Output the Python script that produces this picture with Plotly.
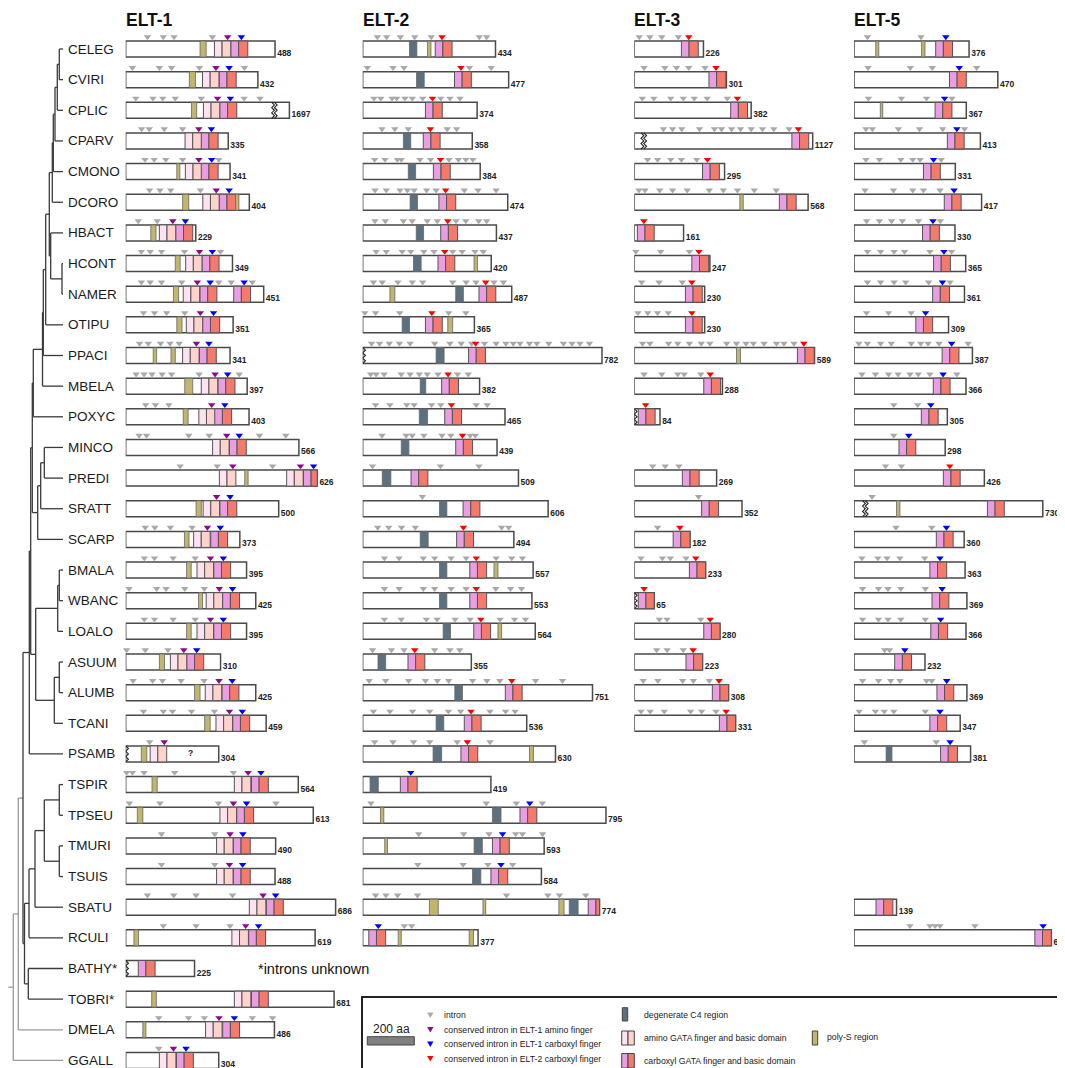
import plotly.graph_objects as go

W, H = 1065, 1068
OFF = 8  # the page body margin shifts the figure by this many pixels

species = ["CELEG", "CVIRI", "CPLIC", "CPARV", "CMONO", "DCORO", "HBACT", "HCONT", "NAMER",
           "OTIPU", "PPACI", "MBELA", "POXYC", "MINCO", "PREDI", "SRATT", "SCARP", "BMALA",
           "WBANC", "LOALO", "ASUUM", "ALUMB", "TCANI", "PSAMB", "TSPIR", "TPSEU", "TMURI",
           "TSUIS", "SBATU", "RCULI", "BATHY*", "TOBRI*", "DMELA", "GGALL"]
genes = ["ELT-1", "ELT-2", "ELT-3", "ELT-5"]

# ---------------- tree (node depth, children...) ----------------
caeno = (52.3, (53.3, (55, (57.3, (59.3, "CELEG", "CVIRI"), "CPLIC"), "CPARV"), "CMONO"), "DCORO")
strongyl = (50.7, "HBACT", (62, "HCONT", "NAMER"))
clade_V = (33.3, (42.5, (43.3, (45.7, (49.3, caeno, strongyl), "OTIPU"), "PPACI"), "MBELA"), "POXYC")
clade_IV = (37.7, (40.7, (44.3, "MINCO", "PREDI"), "SRATT"), "SCARP")
clade_III = (35.7, (57.7, (59.3, "BMALA", "WBANC"), "LOALO"),
             (54.3, (59.3, "ASUUM", "ALUMB"), "TCANI"))
chromadorea = (29.3, (30.7, (32.3, clade_V, clade_IV), clade_III), "PSAMB")
clade_I = (29, (35, (44.3, (59.3, "TSPIR", "TPSEU"), (59.3, "TMURI", "TSUIS")), "SBATU"), "RCULI")
enoplia = (28.3, "BATHY*", "TOBRI*")
tree = (13.3, (18.3, (23, chromadorea, (24.5, clade_I, enoplia)), "DMELA"), "GGALL")
ROOT_STUB = 8.3
TIP_X = 63

# ---------------- ELT-1 ----------------
elt1_len = {"CELEG": 488, "CVIRI": 432, "CPLIC": 1697, "CPARV": 335, "CMONO": 341, "DCORO": 404,
            "HBACT": 229, "HCONT": 349, "NAMER": 451, "OTIPU": 351, "PPACI": 341, "MBELA": 397,
            "POXYC": 403, "MINCO": 566, "PREDI": 626, "SRATT": 500, "SCARP": 373, "BMALA": 395,
            "WBANC": 425, "LOALO": 395, "ASUUM": 310, "ALUMB": 425, "TCANI": 459, "PSAMB": 304,
            "TSPIR": 564, "TPSEU": 613, "TMURI": 490, "TSUIS": 488, "SBATU": 686, "RCULI": 619,
            "BATHY*": 225, "TOBRI*": 681, "DMELA": 486, "GGALL": 304}
elt1_drawn = {"CPLIC": 535}
elt1_break = {"CPLIC": 477, "PSAMB": 0, "BATHY*": 0}
elt1_dom = {
    "CELEG": [("S", 243, 263), ("N", 290), ("C", 344)],
    "CVIRI": [("S", 208, 228), ("N", 251), ("C", 306)],
    "CPLIC": [("S", 215, 232), ("N", 254), ("C", 308)],
    "CPARV": [("N", 194), ("C", 247)],
    "CMONO": [("S", 167, 177), ("N", 195), ("C", 247)],
    "DCORO": [("S", 186, 206), ("N", 252), ("C", 306), ("S", 359, 370)],
    "HBACT": [("S", 82, 99), ("N", 110), ("C", 164)],
    "HCONT": [("S", 162, 178), ("N", 196), ("C", 250)],
    "NAMER": [("S", 156, 173), ("N", 188), ("C", 243), ("C", 353)],
    "OTIPU": [("S", 167, 184), ("N", 198), ("C", 252)],
    "PPACI": [("S", 90, 101), ("S", 148, 162), ("N", 186), ("C", 241)],
    "MBELA": [("S", 193, 219), ("N", 247), ("C", 302)],
    "POXYC": [("S", 188, 204), ("N", 239), ("C", 291)],
    "MINCO": [("N", 284), ("C", 339)],
    "PREDI": [("N", 306), ("S", 389, 400), ("N", 526), ("C", 581)],
    "SRATT": [("S", 230, 247), ("N", 253), ("C", 308)],
    "SCARP": [("S", 192, 207), ("N", 222), ("C", 278)],
    "BMALA": [("S", 199, 214), ("N", 233), ("C", 288)],
    "WBANC": [("S", 238, 251), ("N", 263), ("C", 317)],
    "LOALO": [("S", 199, 214), ("N", 233), ("C", 288)],
    "ASUUM": [("S", 110, 127), ("N", 146), ("C", 200)],
    "ALUMB": [("S", 225, 243), ("N", 260), ("C", 315)],
    "TCANI": [("S", 258, 276), ("N", 295), ("C", 350)],
    "PSAMB": [("S", 51, 69), ("N", 80)],
    "TSPIR": [("S", 86, 103), ("N", 355), ("C", 411)],
    "TPSEU": [("S", 38, 56), ("N", 308), ("C", 363)],
    "TMURI": [("N", 297), ("C", 352)],
    "TSUIS": [("N", 297), ("C", 352)],
    "SBATU": [("N", 404), ("C", 460)],
    "RCULI": [("S", 27, 42), ("N", 347), ("C", 402)],
    "BATHY*": [("C", 41)],
    "TOBRI*": [("S", 85, 100), ("N", 355), ("C", 411)],
    "DMELA": [("S", 56, 66), ("N", 261), ("C", 317)],
    "GGALL": [("N", 110), ("C", 166)],
}
elt1_int = {
    "CELEG": [71, 123, 158, 283], "CVIRI": [22, 110, 150, 241, 388],
    "CPLIC": [33, 89, 121, 162, 247, 387, 439], "CPARV": [52, 77, 126, 186],
    "CMONO": [63, 93, 131, 186, 304], "DCORO": [78, 112, 147, 244], "HBACT": [41, 103],
    "HCONT": [51, 80, 117, 192, 310], "NAMER": [51, 80, 117, 183, 304, 345, 414],
    "OTIPU": [58, 94, 134, 193], "PPACI": [45, 74, 114, 145, 175],
    "MBELA": [34, 60, 86, 119, 150, 240, 371], "POXYC": [65, 97, 141],
    "MINCO": [44, 68, 206, 273, 437, 523], "PREDI": [178, 299, 480], "SRATT": [],
    "SCARP": [64, 95, 146, 217], "BMALA": [61, 94, 155, 227], "WBANC": [11, 101, 132, 193, 257],
    "LOALO": [61, 94, 155, 227], "ASUUM": [3, 64, 138], "ALUMB": [24, 88, 120, 181, 256],
    "TCANI": [58, 123, 153, 215, 290], "PSAMB": [78], "TSPIR": [3, 22, 60, 160, 352],
    "TPSEU": [12, 112, 303, 491], "TMURI": [117, 291], "TSUIS": [117, 291],
    "SBATU": [71, 157, 230, 349], "RCULI": [123, 230, 341], "DMELA": [108, 205, 257, 414, 480],
    "GGALL": [108],
}
elt1_cons = {
    "CELEG": [("p", 333), ("b", 378)], "CVIRI": [("p", 295), ("b", 338)],
    "CPLIC": [("p", 300), ("b", 342)], "CPARV": [("p", 239), ("b", 280)],
    "CMONO": [("p", 239), ("b", 281)], "DCORO": [("p", 296), ("b", 338)],
    "HBACT": [("p", 154), ("b", 195)], "HCONT": [("p", 241), ("b", 283)],
    "NAMER": [("p", 234), ("b", 276), ("b", 387)], "OTIPU": [("p", 244), ("b", 287)],
    "PPACI": [("p", 231), ("b", 272)], "MBELA": [("p", 292), ("b", 333)],
    "POXYC": [("p", 281), ("b", 324)], "MINCO": [("p", 330), ("b", 371)],
    "PREDI": [("p", 350), ("p", 571), ("b", 614)], "SRATT": [("p", 297), ("b", 341)],
    "SCARP": [("p", 267), ("b", 309)], "BMALA": [("p", 277), ("b", 319)],
    "WBANC": [("p", 306), ("b", 349)], "LOALO": [("p", 277), ("b", 319)],
    "ASUUM": [("p", 190), ("b", 232)], "ALUMB": [("p", 305), ("b", 348)],
    "TCANI": [("p", 339), ("b", 381)], "PSAMB": [("p", 126)],
    "TSPIR": [("p", 400), ("b", 442)], "TPSEU": [("p", 352), ("b", 395)],
    "TMURI": [("p", 341), ("b", 383)], "TSUIS": [("p", 339), ("b", 382)],
    "SBATU": [("p", 449), ("b", 490)], "RCULI": [("p", 392), ("b", 434)],
    "DMELA": [("p", 305), ("b", 355)], "GGALL": [("p", 156), ("b", 197)],
}

# ---------------- ELT-2 ----------------
elt2_len = {"CELEG": 434, "CVIRI": 477, "CPLIC": 374, "CPARV": 358, "CMONO": 384, "DCORO": 474,
            "HBACT": 437, "HCONT": 420, "NAMER": 487, "OTIPU": 365, "PPACI": 782, "MBELA": 382,
            "POXYC": 465, "MINCO": 439, "PREDI": 509, "SRATT": 606, "SCARP": 494, "BMALA": 557,
            "WBANC": 553, "LOALO": 564, "ASUUM": 355, "ALUMB": 751, "TCANI": 536, "PSAMB": 630,
            "TSPIR": 419, "TPSEU": 795, "TMURI": 593, "TSUIS": 584, "SBATU": 774, "RCULI": 377}
elt2_drawn = {}
elt2_break = {"PPACI": 0}
elt2_dom = {
    "CELEG": [("D", 153, 177), ("S", 212, 223), ("C", 237)],
    "CVIRI": [("D", 176, 201), ("C", 300)],
    "CPLIC": [("C", 205)],
    "CPARV": [("D", 133, 157), ("C", 198)],
    "CMONO": [("D", 149, 173), ("C", 231)],
    "DCORO": [("D", 155, 179), ("C", 249)],
    "HBACT": [("D", 175, 199), ("C", 255)],
    "HCONT": [("D", 166, 191), ("S", 364, 375), ("C", 246)],
    "NAMER": [("S", 89, 105), ("D", 304, 329), ("C", 380)],
    "OTIPU": [("D", 129, 153), ("S", 278, 294), ("C", 205)],
    "PPACI": [("D", 240, 266), ("C", 346)],
    "MBELA": [("D", 188, 206), ("C", 258)],
    "POXYC": [("D", 185, 212), ("C", 268)],
    "MINCO": [("D", 126, 151), ("C", 304)],
    "PREDI": [("D", 64, 92), ("C", 158)],
    "SRATT": [("D", 251, 275), ("C", 328)],
    "SCARP": [("D", 188, 214), ("C", 307)],
    "BMALA": [("D", 251, 275), ("S", 429, 442), ("C", 350)],
    "WBANC": [("D", 251, 275), ("C", 350)],
    "LOALO": [("D", 263, 287), ("S", 442, 454), ("C", 363)],
    "ASUUM": [("D", 50, 75), ("C", 148)],
    "ALUMB": [("D", 301, 326), ("C", 466)],
    "TCANI": [("D", 240, 265), ("C", 332)],
    "PSAMB": [("D", 230, 258), ("S", 545, 558), ("C", 321)],
    "TSPIR": [("D", 24, 51), ("C", 123)],
    "TPSEU": [("S", 58, 69), ("D", 424, 452), ("C", 514)],
    "TMURI": [("S", 72, 81), ("D", 364, 391), ("C", 424)],
    "TSUIS": [("D", 359, 386), ("C", 419)],
    "SBATU": [("S", 218, 247), ("S", 393, 402), ("S", 641, 658), ("D", 675, 704), ("C", 737)],
    "RCULI": [("C", 20), ("S", 116, 126), ("S", 348, 362)],
}
elt2_int = {
    "CELEG": [48, 78, 123, 170, 224, 381, 405], "CVIRI": [15, 99, 135, 349, 420],
    "CPLIC": [37, 59, 96, 111, 138, 162, 196, 255, 285, 318], "CPARV": [63, 105, 149, 276, 307],
    "CMONO": [39, 73, 113, 126, 187, 222, 282, 313, 337, 360],
    "DCORO": [40, 77, 122, 146, 168, 209, 240, 332, 377, 436],
    "HBACT": [40, 74, 133, 162, 211, 244, 305, 337, 379, 405],
    "HCONT": [44, 77, 129, 157, 200, 233, 294, 325, 367, 394],
    "NAMER": [35, 64, 115, 162, 196, 294, 338, 370, 429, 460],
    "OTIPU": [7, 42, 121, 281, 337],
    "PPACI": [29, 55, 87, 120, 155, 235, 285, 322, 356, 398, 436, 468, 492, 514, 545, 569, 608,
              656, 684, 710, 741],
    "MBELA": [26, 44, 70, 126, 155, 185, 211, 246, 310, 345],
    "POXYC": [42, 89, 144, 168, 225, 255, 371, 407], "MINCO": [63, 142, 162, 200, 259, 288, 351, 368],
    "PREDI": [32, 254, 380], "SRATT": [195], "SCARP": [49, 85, 127, 172, 454, 477],
    "BMALA": [71, 119, 198, 235, 289, 338, 436, 487, 522],
    "WBANC": [71, 119, 198, 235, 289, 338, 435, 483, 519],
    "LOALO": [71, 126, 208, 243, 302, 351, 449, 496, 532], "ASUUM": [32, 94, 135, 235, 285, 317],
    "ALUMB": [21, 75, 150, 205, 244, 281, 359, 406, 448, 565, 653],
    "TCANI": [35, 89, 163, 219, 280, 320, 416, 467, 498], "PSAMB": [39, 99, 166, 219, 309, 416],
    "TSPIR": [], "TPSEU": [27, 404, 502, 587], "TMURI": [183, 330, 413, 500, 522, 588],
    "TSUIS": [180, 328, 409, 490], "SBATU": [42, 76, 114, 179, 470, 605, 643, 729],
    "RCULI": [136, 160],
}
elt2_cons = {
    "CELEG": [("r", 259)], "CVIRI": [("r", 321)], "CPLIC": [("r", 228)], "CPARV": [("r", 221)],
    "CMONO": [("r", 254)], "DCORO": [("r", 271)], "HBACT": [("r", 278)], "HCONT": [("r", 268)],
    "NAMER": [("r", 402)], "OTIPU": [("r", 226)], "PPACI": [("r", 369)], "MBELA": [("r", 279)],
    "POXYC": [("r", 290)], "MINCO": [("r", 326)], "SCARP": [("r", 329)], "BMALA": [("r", 371)],
    "WBANC": [("r", 371)], "LOALO": [("r", 386)], "ASUUM": [("r", 170)], "ALUMB": [("r", 487)],
    "TCANI": [("r", 354)], "PSAMB": [("r", 342)], "TSPIR": [("b", 157)], "TPSEU": [("b", 546)],
    "TMURI": [("b", 457)], "TSUIS": [("b", 452)], "RCULI": [("b", 51)],
}

# ---------------- ELT-3 ----------------
elt3_len = {"CELEG": 226, "CVIRI": 301, "CPLIC": 382, "CPARV": 1127, "CMONO": 295, "DCORO": 568,
            "HBACT": 161, "HCONT": 247, "NAMER": 230, "OTIPU": 230, "PPACI": 589, "MBELA": 288,
            "POXYC": 84, "PREDI": 269, "SRATT": 352, "SCARP": 182, "BMALA": 233, "WBANC": 65,
            "LOALO": 280, "ASUUM": 223, "ALUMB": 308, "TCANI": 331}
elt3_drawn = {"CPARV": 583}
elt3_break = {"CPARV": 22, "POXYC": 0, "WBANC": 0}
elt3_dom = {
    "CELEG": [("C", 154)], "CVIRI": [("C", 244)], "CPLIC": [("C", 315)], "CPARV": [("C", 515)],
    "CMONO": [("C", 223)], "DCORO": [("S", 345, 356), ("C", 474)], "HBACT": [("C", 10)],
    "HCONT": [("C", 188)], "NAMER": [("C", 167)], "OTIPU": [("C", 167)],
    "PPACI": [("S", 334, 347), ("C", 533)], "MBELA": [("C", 227)], "POXYC": [("C", 13)],
    "PREDI": [("C", 157)], "SRATT": [("C", 220)], "SCARP": [("C", 127)], "BMALA": [("C", 180)],
    "WBANC": [("C", 13)], "LOALO": [("C", 227)], "ASUUM": [("C", 169)], "ALUMB": [("C", 255)],
    "TCANI": [("C", 278)],
}
elt3_int = {
    "CELEG": [16, 51, 90, 144], "CVIRI": [32, 100, 138, 178, 231],
    "CPLIC": [26, 64, 119, 160, 196, 238, 304],
    "CPARV": [95, 125, 155, 213, 262, 285, 318, 347, 382, 419, 456, 506],
    "CMONO": [43, 76, 119, 154, 204], "DCORO": [15, 35, 83, 125, 173, 245, 291, 337, 392, 464],
    "HBACT": [], "HCONT": [5, 86, 180], "NAMER": [24, 81, 157], "OTIPU": [12, 44, 76, 111],
    "PPACI": [27, 51, 112, 142, 180, 219, 247, 302, 334, 365, 389, 424, 465, 489, 522],
    "MBELA": [32, 90, 142, 163, 217], "PREDI": [60, 101, 146], "SRATT": [210], "SCARP": [76],
    "BMALA": [22, 92, 118, 169], "LOALO": [82, 107, 217], "ASUUM": [73, 107, 160],
    "ALUMB": [29, 77, 158, 193, 245], "TCANI": [22, 52, 98, 184, 220, 267],
}
elt3_cons = {
    "CELEG": [("r", 178)], "CVIRI": [("r", 267)], "CPLIC": [("r", 337)], "CPARV": [("r", 536)],
    "CMONO": [("r", 239)], "HBACT": [("r", 31)], "HCONT": [("r", 211)], "NAMER": [("r", 188)],
    "OTIPU": [("r", 188)], "PPACI": [("r", 554)], "MBELA": [("r", 248)], "POXYC": [("r", 37)],
    "SCARP": [("r", 149)], "BMALA": [("r", 201)], "WBANC": [("r", 32)], "LOALO": [("r", 248)],
    "ASUUM": [("r", 192)], "ALUMB": [("r", 277)], "TCANI": [("r", 300)],
}

# ---------------- ELT-5 ----------------
elt5_len = {"CELEG": 376, "CVIRI": 470, "CPLIC": 367, "CPARV": 413, "CMONO": 331, "DCORO": 417,
            "HBACT": 330, "HCONT": 365, "NAMER": 361, "OTIPU": 309, "PPACI": 387, "MBELA": 366,
            "POXYC": 305, "MINCO": 298, "PREDI": 426, "SRATT": 730, "SCARP": 360, "BMALA": 363,
            "WBANC": 369, "LOALO": 366, "ASUUM": 232, "ALUMB": 369, "TCANI": 347, "PSAMB": 381,
            "SBATU": 139, "RCULI": 645}
elt5_drawn = {"SRATT": 617}
elt5_break = {"SRATT": 28}
elt5_dom = {
    "CELEG": [("S", 71, 81), ("S", 221, 232), ("C", 267)], "CVIRI": [("C", 312)],
    "CPLIC": [("S", 86, 94), ("C", 265)], "CPARV": [("C", 305)], "CMONO": [("C", 227)],
    "DCORO": [("C", 295)], "HBACT": [("C", 224)], "HCONT": [("C", 260)], "NAMER": [("C", 257)],
    "OTIPU": [("C", 202)], "PPACI": [("C", 288)], "MBELA": [("C", 259)], "POXYC": [("C", 220)],
    "MINCO": [("C", 147)], "PREDI": [("C", 292)], "SRATT": [("S", 139, 150), ("C", 436)],
    "SCARP": [("C", 269)], "BMALA": [("C", 248)], "WBANC": [("C", 255)], "LOALO": [("C", 251)],
    "ASUUM": [("C", 133)], "ALUMB": [("C", 271)], "TCANI": [("C", 248)],
    "PSAMB": [("D", 105, 124), ("C", 283)], "SBATU": [("C", 72)], "RCULI": [("C", 591)],
}
elt5_int = {
    "CELEG": [44, 219], "CVIRI": [46, 184, 256, 401], "CPLIC": [47, 155, 237, 320],
    "CPARV": [39, 60, 145, 214, 290, 361], "CMONO": [39, 83, 153, 192, 216, 285],
    "DCORO": [36, 129, 192, 227, 281], "HBACT": [41, 83, 123, 158, 211, 282],
    "HCONT": [44, 87, 131, 165, 248, 319], "NAMER": [44, 87, 131, 169, 244, 314],
    "OTIPU": [41, 113, 187], "PPACI": [16, 44, 87, 122, 187, 218, 242, 278, 373],
    "MBELA": [26, 70, 113, 144, 183, 210, 248, 336], "POXYC": [130, 208], "MINCO": [130],
    "PREDI": [103, 155], "SRATT": [59], "SCARP": [137, 254], "BMALA": [26, 78, 108, 150, 231],
    "WBANC": [28, 80, 111, 153, 233], "LOALO": [28, 80, 111, 153, 233], "ASUUM": [100, 116],
    "ALUMB": [28, 80, 120, 150, 237, 254], "TCANI": [17, 70, 99, 130, 233], "PSAMB": [34, 269],
    "RCULI": [183, 248, 265, 281, 395],
}
elt5_cons = {
    "CELEG": [("b", 300)], "CVIRI": [("b", 344)], "CPLIC": [("b", 296)], "CPARV": [("b", 336)],
    "CMONO": [("b", 260)], "DCORO": [("b", 327)], "HBACT": [("b", 258)], "HCONT": [("b", 294)],
    "NAMER": [("b", 289)], "OTIPU": [("b", 234)], "PPACI": [("b", 319)], "MBELA": [("b", 291)],
    "POXYC": [("b", 251)], "MINCO": [("b", 179)], "PREDI": [("r", 313)], "SCARP": [("b", 302)],
    "BMALA": [("b", 281)], "WBANC": [("b", 288)], "LOALO": [("b", 283)], "ASUUM": [("b", 166)],
    "ALUMB": [("b", 303)], "TCANI": [("b", 281)], "PSAMB": [("b", 314)], "RCULI": [("b", 618)],
}

legend_intron_labels = ["intron", "conserved intron in ELT-1 amino finger",
                        "conserved intron in ELT-1 carboxyl finger",
                        "conserved intron in ELT-2 carboxyl finger"]
legend_domain_labels = ["degenerate C4 region", "amino GATA finger and basic domain",
                        "carboxyl GATA finger and basic domain", "poly-S region"]

# ---------------- styling / geometry (reference pixel units) ----------------
K = 0.306                         # px per amino acid
COL_L = [125.7, 362.7, 634.3, 854.0]
COL_R = [360.0, 630.0, 850.0, 1065.0]
ROW0, ROWH = 49.0, 30.65
BOX_H = 8.0 / ROWH
TRI_DY = 12.0 / ROWH
C_LIGHT, C_PEACH, C_ORCHID, C_SALMON = "#fde3f1", "#fdd3cc", "#e99ee3", "#f57a6b"
C_DEG, C_POLYS = "#5c7080", "#c2b66c"
INTRON_COL = {"g": "#a9a9a9", "p": "#8b0a8b", "b": "#0000ff", "r": "#ff0000"}
DOM_W = {"N": (25, 29), "C": (25, 30)}
FONT = "Liberation Sans"
LEG_FONT = dict(family="Liberation Sans", size=8.7, color="#1a1a1a")

gene_data = [
    (elt1_len, elt1_drawn, elt1_break, elt1_dom, elt1_int, elt1_cons),
    (elt2_len, elt2_drawn, elt2_break, elt2_dom, elt2_int, elt2_cons),
    (elt3_len, elt3_drawn, elt3_break, elt3_dom, elt3_int, elt3_cons),
    (elt5_len, elt5_drawn, elt5_break, elt5_dom, elt5_int, elt5_cons),
]

fig = go.Figure()
shapes = []
annotations = []


def px(x):
    return (x - OFF) / W


def py(y):
    return 1 - (y - OFF) / H


def rect(xref, x0, x1, y0, y1, fill, lc="#555555", lw=1.0, yref="y", layer="below"):
    return dict(type="rect", xref=xref, yref=yref, x0=x0, x1=x1, y0=y0, y1=y1,
                fillcolor=fill, line=dict(color=lc, width=lw), layer=layer)


for g, (lens, drawn, breaks, doms, ints, cons) in enumerate(gene_data):
    xa = "x" if g == 0 else f"x{g + 1}"
    tx, ty, tt = [], [], []
    tri = {k: ([], []) for k in INTRON_COL}
    zx, zy = [], []
    for sp, L in lens.items():
        i = species.index(sp)
        D = drawn.get(sp, L)
        shapes.append(rect(xa, 0, D, i - BOX_H, i + BOX_H, "white", "#4a4a4a", 1.5))
        for d in doms.get(sp, []):
            kind = d[0]
            if kind in ("S", "D"):
                shapes.append(rect(xa, d[1], d[2], i - BOX_H, i + BOX_H,
                                   C_POLYS if kind == "S" else C_DEG, "#666666", 0.8))
            else:
                w1, w2 = DOM_W[kind]
                c1, c2 = (C_LIGHT, C_PEACH) if kind == "N" else (C_ORCHID, C_SALMON)
                s = d[1]
                shapes.append(rect(xa, s, min(s + w1, D), i - BOX_H, i + BOX_H, c1, "#555555", 1.0))
                if s + w1 < D:
                    shapes.append(rect(xa, s + w1, min(s + w1 + w2, D), i - BOX_H, i + BOX_H,
                                       c2, "#555555", 1.0))
        for p in ints.get(sp, []):
            tri["g"][0].append(p)
            tri["g"][1].append(i - TRI_DY)
        for kind, p in cons.get(sp, []):
            tri[kind][0].append(p)
            tri[kind][1].append(i - TRI_DY)
        if sp in breaks:
            b = breaks[sp]
            offs = [0] if b == 0 else [0, 9]
            for off in offs:
                n = 6
                for k in range(n + 1):
                    zx.append(b + off + (9 if k % 2 else 0))
                    zy.append(i - BOX_H + 2 * BOX_H * k / n)
                zx.append(None)
                zy.append(None)
        tx.append(D + 7)
        ty.append(i + 0.16)
        tt.append(str(L))
    if zx:
        fig.add_trace(go.Scatter(x=zx, y=zy, mode="lines", xaxis=xa, yaxis="y",
                                 line=dict(color="#222222", width=1.1), hoverinfo="skip"))
    for kind, (xs, ys) in tri.items():
        if xs:
            fig.add_trace(go.Scatter(x=xs, y=ys, mode="markers", xaxis=xa, yaxis="y",
                                     marker=dict(symbol="triangle-down", size=6.5,
                                                 color=INTRON_COL[kind], line=dict(width=0)),
                                     hoverinfo="skip", cliponaxis=False))
    fig.add_trace(go.Scatter(x=tx, y=ty, mode="text", text=tt, textposition="middle right",
                             xaxis=xa, yaxis="y", cliponaxis=False, hoverinfo="skip",
                             textfont=dict(family=FONT, size=8.5, color="#222222", weight="bold")))
    annotations.append(dict(x=0, y=-0.95, xref=xa, yref="y", text=genes[g], showarrow=False,
                            xanchor="left", yanchor="middle", xshift=-2,
                            font=dict(family=FONT, size=17.5, color="#111111", weight="bold")))

# PSAMB "?" in ELT-1
fig.add_trace(go.Scatter(x=[212], y=[species.index("PSAMB")], mode="text", text=["?"],
                         xaxis="x", yaxis="y", hoverinfo="skip",
                         textfont=dict(family=FONT, size=8.5, color="#222222", weight="bold")))
annotations.append(dict(x=426, y=species.index("BATHY*"), xref="x", yref="y",
                        text="*introns unknown", showarrow=False, xanchor="left", yanchor="middle",
                        font=dict(family=FONT, size=14.5, color="#111111")))

# ---------------- tree ----------------
seg_dark = ([], [])
seg_gray = ([], [])


def draw(node):
    if isinstance(node, str):
        return TIP_X, species.index(node)
    x = node[0]
    kids = [draw(c) for c in node[1:]]
    ys = [k[1] for k in kids]
    tgt = seg_gray if x < 20 else seg_dark
    for cx, cy in kids:
        tgt[0].extend([x, cx, None])
        tgt[1].extend([cy, cy, None])
    tgt[0].extend([x, x, None])
    tgt[1].extend([min(ys), max(ys), None])
    return x, (min(ys) + max(ys)) / 2


rx, ry = draw(tree)
seg_gray[0].extend([ROOT_STUB, rx, None])
seg_gray[1].extend([ry, ry, None])
fig.add_trace(go.Scatter(x=seg_gray[0], y=seg_gray[1], mode="lines", xaxis="x5", yaxis="y",
                         line=dict(color="#9a9a9a", width=1.3), hoverinfo="skip"))
fig.add_trace(go.Scatter(x=seg_dark[0], y=seg_dark[1], mode="lines", xaxis="x5", yaxis="y",
                         line=dict(color="#3a3a3a", width=1.3), hoverinfo="skip"))
for i, sp in enumerate(species):
    annotations.append(dict(x=px(66), y=i, xref="paper", yref="y", text=sp, showarrow=False,
                            xanchor="left", yanchor="middle",
                            font=dict(family=FONT, size=13.5, color="#1a1a1a")))

# ---------------- legend box ----------------
shapes.append(dict(type="rect", xref="paper", yref="paper", x0=px(362), x1=px(1090),
                   y0=py(1095), y1=py(997), line=dict(color="#222222", width=2),
                   fillcolor="rgba(0,0,0,0)", layer="above"))
annotations.append(dict(x=px(391.5), y=py(1029), xref="paper", yref="paper", text="200 aa",
                        showarrow=False, xanchor="center", yanchor="middle",
                        font=dict(family=FONT, size=12, color="#222222")))
shapes.append(rect("paper", px(367.3), px(414.3), py(1045), py(1036.7), "#808080", "#444444",
                   1.0, yref="paper", layer="above"))
leg_y = [1015, 1029.5, 1044, 1058.5]
for lab, kind, yy in zip(legend_intron_labels, ["g", "p", "b", "r"], leg_y):
    xc = 430.3
    path = (f"M {px(xc - 3.2)},{py(yy - 2.5)} L {px(xc + 3.2)},{py(yy - 2.5)} "
            f"L {px(xc)},{py(yy + 3)} Z")
    shapes.append(dict(type="path", xref="paper", yref="paper", path=path,
                       fillcolor=INTRON_COL[kind], line=dict(width=0), layer="above"))
    annotations.append(dict(x=px(441.7), y=py(yy), xref="paper", yref="paper", text=lab,
                            showarrow=False, xanchor="left", yanchor="middle", font=LEG_FONT))
for x0, x1, y0, y1, col in [(622.3, 627.7, 1007.7, 1021, C_DEG),
                            (621.7, 628, 1031, 1045, C_LIGHT), (628, 634.3, 1031, 1045, C_PEACH),
                            (621.7, 628, 1053.5, 1068, C_ORCHID),
                            (628, 634.3, 1053.5, 1068, C_SALMON),
                            (812.3, 817.7, 1031, 1045, C_POLYS)]:
    shapes.append(rect("paper", px(x0), px(x1), py(y1), py(y0), col, "#444444", 1.0,
                       yref="paper", layer="above"))
for lab, (xx, yy) in zip(legend_domain_labels,
                         [(641.7, 1015), (641.7, 1038), (641.7, 1061), (825, 1037)]):
    annotations.append(dict(x=px(xx), y=py(yy), xref="paper", yref="paper", text=lab,
                            showarrow=False, xanchor="left", yanchor="middle", font=LEG_FONT))

# ---------------- layout ----------------
axes = {}
for g in range(4):
    name = "xaxis" if g == 0 else f"xaxis{g + 1}"
    axes[name] = dict(domain=[px(COL_L[g]), min(px(COL_R[g]), 1.0)],
                      range=[0, (min(px(COL_R[g]), 1.0) * W + OFF - COL_L[g]) / K],
                      visible=False, fixedrange=True, anchor="y")
axes["xaxis5"] = dict(domain=[0, px(TIP_X + 1)], range=[OFF, TIP_X + 1], visible=False,
                      fixedrange=True, anchor="y")

fig.update_layout(
    width=W, height=H, margin=dict(l=0, r=0, t=0, b=0),
    paper_bgcolor="white", plot_bgcolor="rgba(0,0,0,0)", showlegend=False,
    yaxis=dict(domain=[0, 1], range=[(H + OFF - ROW0) / ROWH, (OFF - ROW0) / ROWH], visible=False,
               fixedrange=True),
    shapes=shapes, annotations=annotations, **axes,
)

fig.write_html("out.html")
